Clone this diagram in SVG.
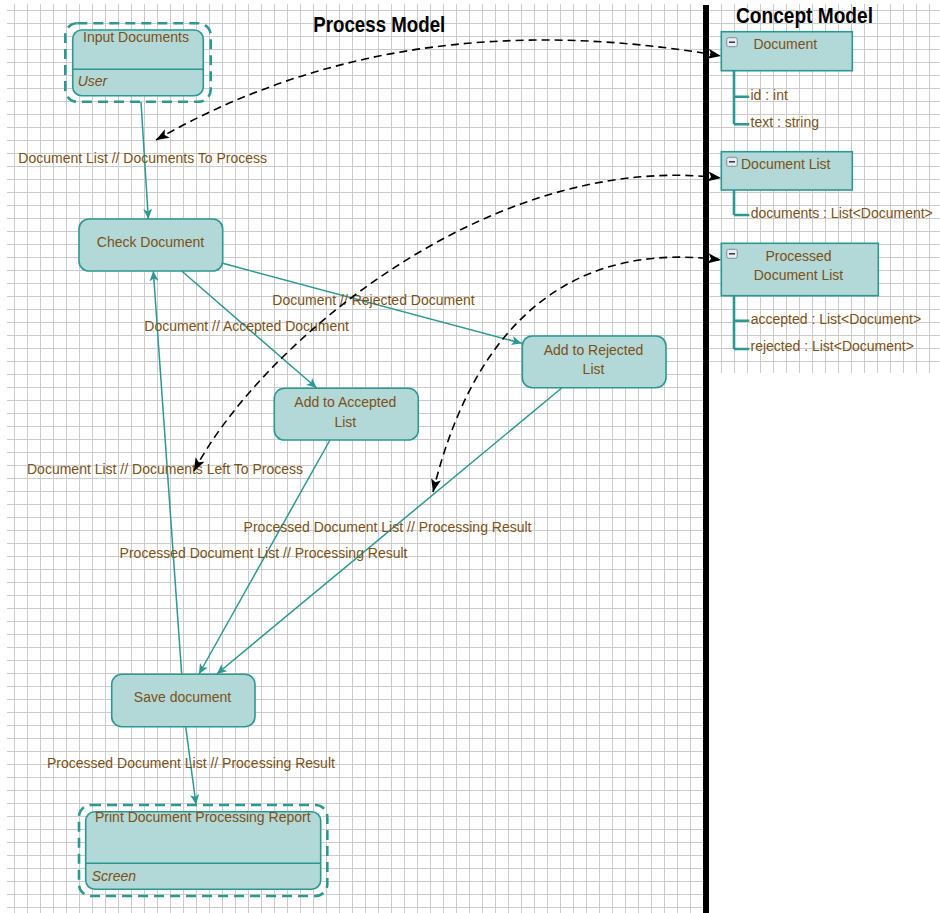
<svg xmlns="http://www.w3.org/2000/svg" width="940" height="913" viewBox="0 0 940 913">
<style>
text{font-family:"Liberation Sans",Arial,sans-serif;font-size:14px;fill:#7c5116}
.c{text-anchor:middle}
.i{font-style:italic}
.t{font-weight:bold;fill:#000;font-size:22px}
.n{fill:#b2d8d7;stroke:#2b9892;stroke-width:1.6}
.d{fill:none;stroke:#2b9892;stroke-width:2.6;stroke-dasharray:10 6}
.dv{stroke:#2b9892;stroke-width:1.6}
.tr{fill:none;stroke:#2b9892;stroke-width:2.6}
.e{fill:none;stroke:#2b9892;stroke-width:1.5;marker-end:url(#ta)}
.k{fill:none;stroke:#000;stroke-width:1.6;stroke-dasharray:8 5;marker-start:url(#ba);marker-end:url(#ba)}
.ic{fill:#e9eef2;stroke:#7d8b98;stroke-width:1}
</style>
<defs>
<pattern id="g" patternUnits="userSpaceOnUse" x="7" y="4" width="13" height="13"><path d="M7.5,0V13M0,6.5H13" stroke="#cccccc" stroke-width="1" fill="none"/></pattern>
<pattern id="g2" patternUnits="userSpaceOnUse" x="709" y="4" width="13" height="13"><path d="M12.5,0V13M0,6.5H13" stroke="#cccccc" stroke-width="1" fill="none"/></pattern>
<marker id="ta" viewBox="0 0 10 9" refX="10" refY="4.5" markerWidth="10" markerHeight="9" markerUnits="userSpaceOnUse" orient="auto"><path d="M0,0 L10,4.5 L0,9 L2.5,4.5 z" fill="#2b9892"/></marker>
<marker id="ba" viewBox="0 0 13 10" refX="13" refY="5" markerWidth="13" markerHeight="10" markerUnits="userSpaceOnUse" orient="auto-start-reverse"><path d="M0,0 L13,5 L0,10 L3,5 z" fill="#000"/></marker>
</defs>
<rect width="940" height="913" fill="#fff"/>
<rect x="7" y="4" width="696" height="909" fill="url(#g)"/>
<rect x="709" y="4" width="231" height="369" fill="url(#g2)"/>
<rect x="703" y="5" width="6" height="908" fill="#000"/>
<text class="t" x="313.3" y="31.7" textLength="132" lengthAdjust="spacingAndGlyphs">Process Model</text>
<text class="t" x="736" y="22.7" textLength="137" lengthAdjust="spacingAndGlyphs">Concept Model</text>

<g id="input-documents">
<rect class="d" x="65.3" y="23.3" width="145.4" height="78.4" rx="12"/>
<rect class="n" x="72.7" y="30" width="130.6" height="65.7" rx="9"/>
<line class="dv" x1="72.7" y1="69.3" x2="203.3" y2="69.3"/>
<text class="c" x="136" y="41.5">Input Documents</text>
<text class="i" x="77.7" y="86">User</text>
</g>
<g id="check-document">
<rect class="n" x="79" y="219" width="143.7" height="52" rx="10"/>
<text class="c" x="150.5" y="246.5">Check Document</text>
</g>
<g id="add-accepted">
<rect class="n" x="274.3" y="388.3" width="144" height="51.7" rx="10"/>
<text class="c" x="345.3" y="406.6">Add to Accepted</text>
<text class="c" x="345.3" y="426.6">List</text>
</g>
<g id="add-rejected">
<rect class="n" x="522.3" y="336" width="143.7" height="51.7" rx="10"/>
<text class="c" x="593.5" y="355">Add to Rejected</text>
<text class="c" x="593.5" y="374">List</text>
</g>
<g id="save-document">
<rect class="n" x="111.7" y="674.3" width="143.3" height="52.4" rx="10"/>
<text class="c" x="182.5" y="702.2">Save document</text>
</g>
<g id="print-report">
<rect class="d" x="79" y="805" width="248.3" height="91" rx="12"/>
<rect class="n" x="85.7" y="811.7" width="235" height="77.6" rx="9"/>
<line class="dv" x1="85.7" y1="863.3" x2="320.7" y2="863.3"/>
<text x="95" y="822.2">Print Document Processing Report</text>
<text class="i" x="91.7" y="880.6">Screen</text>
</g>

<g id="concept-document">
<rect class="n" x="721.3" y="31.7" width="131" height="39"/>
<rect class="ic" x="726.7" y="37.7" width="10.6" height="9" rx="2"/>
<line x1="729" y1="42.2" x2="735" y2="42.2" stroke="#333" stroke-width="1.5"/>
<text class="c" x="785.3" y="49.2">Document</text>
<path class="tr" d="M734,70.7V124.3M734,96.7H749.3M734,124.3H749.3"/>
<text x="750.5" y="99.7">id : int</text>
<text x="750.5" y="127.3">text : string</text>
</g>
<g id="concept-document-list">
<rect class="n" x="721.3" y="151.7" width="131" height="38.3"/>
<rect class="ic" x="726.7" y="157.3" width="10.6" height="9" rx="2"/>
<line x1="729" y1="161.8" x2="735" y2="161.8" stroke="#333" stroke-width="1.5"/>
<text x="741" y="169.2">Document List</text>
<path class="tr" d="M734,190V215M734,215H749.3"/>
<text x="750.7" y="218">documents : List&lt;Document&gt;</text>
</g>
<g id="concept-processed-list">
<rect class="n" x="721.3" y="243.3" width="157" height="52.4"/>
<rect class="ic" x="726.7" y="249.3" width="10.6" height="9" rx="2"/>
<line x1="729" y1="253.8" x2="735" y2="253.8" stroke="#333" stroke-width="1.5"/>
<text class="c" x="798.5" y="261">Processed</text>
<text class="c" x="798.5" y="280">Document List</text>
<path class="tr" d="M734,295.7V349M734,320.7H749.3M734,349H749.3"/>
<text x="750.7" y="323.7">accepted : List&lt;Document&gt;</text>
<text x="750.5" y="351">rejected : List&lt;Document&gt;</text>
</g>

<g id="connectors">
<path class="e" d="M141,102 L148.3,219"/>
<path class="e" d="M181.7,271 L316.7,388"/>
<path class="e" d="M222.7,263.3 L521.7,343.3"/>
<path class="e" d="M330,440 L199,674"/>
<path class="e" d="M561.7,388 L216.7,674"/>
<path class="e" d="M181.7,674.3 L153.3,271"/>
<path class="e" d="M185.7,726.7 L196,804.5"/>
<text x="18.3" y="163">Document List // Documents To Process</text>
<text x="144.3" y="331">Document // Accepted Document</text>
<text x="272.3" y="305">Document // Rejected Document</text>
<text x="27" y="474">Document List // Documents Left To Process</text>
<text x="243.6" y="532">Processed Document List // Processing Result</text>
<text x="119.6" y="558">Processed Document List // Processing Result</text>
<text x="47" y="767.5">Processed Document List // Processing Result</text>
<path class="k" d="M156,140 Q400,0 721,56"/>
<path class="k" d="M194,471 C260,345 490,150 721,178"/>
<path class="k" d="M433,492 C460,380 530,235 721,260"/>
</g>
</svg>
